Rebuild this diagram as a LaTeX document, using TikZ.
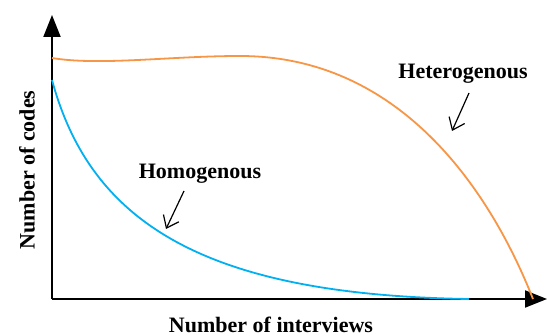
\documentclass[tikz,border=0pt]{standalone}
\usepackage{fontspec}
\setmainfont{Liberation Serif}
\usetikzlibrary{arrows.meta}
\definecolor{hetcol}{RGB}{247,150,70}
\definecolor{homcol}{RGB}{0,176,240}

\begin{document}
\begin{tikzpicture}[x=1pt, y=-1pt,
		axis/.style={line width=2pt, -{Triangle[length=22pt,width=17pt]}},
		curve/.style={line width=1.8pt},
		lbl/.style={font=\fontsize{22}{24}\selectfont\bfseries, inner sep=0pt},
		pointer/.style={line width=1.2pt, -{Straight Barb[length=11pt,width=17pt]}}]
	%%%%% START %%%%%
	
	\useasboundingbox (0,0) rectangle (547,336);
	
	\coordinate (origin) at (52, 299);
	\coordinate (ytip) at (52, 15);
	\coordinate (xtip) at (547, 299);
	
	\draw[axis] (origin) -- (ytip);
	\draw[axis] (origin) -- (xtip);
	
	\node[lbl, rotate=90] (ylabel) at (27, 170) {Number of codes};
	\node[lbl] (xlabel) at (271, 325) {Number of interviews};
	
	\draw[curve, color=hetcol] (52, 58) .. controls (100, 66) and (170, 56) .. (240, 56)
		.. controls (400, 56) and (490, 190) .. (533, 299);
	\draw[curve, color=homcol] (52, 80) .. controls (90, 220) and (200, 295) .. (469, 299);
	
	\node[lbl] (het) at (463, 74) {Heterogenous};
	\coordinate (hetpt) at (452, 131);
	\draw[pointer] (469, 93) -- (hetpt);
	
	\node[lbl] (hom) at (200, 174) {Homogenous};
	\coordinate (hompt) at (166, 229);
	\draw[pointer] (184, 191) -- (hompt);
	
	%%%%% END %%%%%
\end{tikzpicture}
\end{document}
